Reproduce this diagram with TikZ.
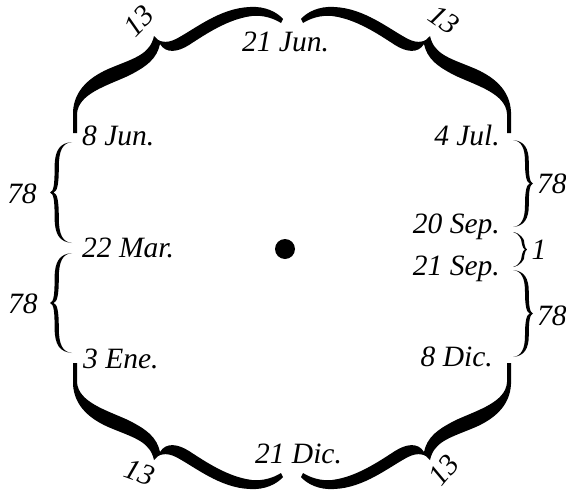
\documentclass[tikz,border=0pt]{standalone}
\usepackage{fontspec}
\setmainfont{Liberation Serif}
\usepackage{tikz}
\newcommand\sbrace[4]{% x, top, bottom, depth (signed)
  \pgfmathsetmacro\ym{(#2+#3)/2}
  \pgfmathsetmacro\yq{(#2+\ym)/2}
  \pgfmathsetmacro\yr{(#3+\ym)/2}
  \fill ({#1},{#2}) .. controls ({#1+0.55*(#4)},{#2+1}) and ({#1+0.79*(#4)},{#2+8}) .. ({#1+0.79*(#4)},\yq)
    .. controls ({#1+0.79*(#4)},{\ym-8}) and ({#1+0.83*(#4)},{\ym-1}) .. ({#1+(#4)},\ym)
    .. controls ({#1+0.83*(#4)},{\ym+1}) and ({#1+0.79*(#4)},{\ym+8}) .. ({#1+0.79*(#4)},\yr)
    .. controls ({#1+0.79*(#4)},{#3-8}) and ({#1+0.55*(#4)},{#3-1}) .. ({#1},{#3})
    .. controls ({#1+0.42*(#4)},{#3-1}) and ({#1+0.6*(#4)},{#3-8}) .. ({#1+0.6*(#4)},\yr)
    .. controls ({#1+0.6*(#4)},{\ym+8}) and ({#1+0.67*(#4)},{\ym+1}) .. ({#1+0.84*(#4)},\ym)
    .. controls ({#1+0.67*(#4)},{\ym-1}) and ({#1+0.6*(#4)},{\ym-8}) .. ({#1+0.6*(#4)},\yq)
    .. controls ({#1+0.6*(#4)},{#2+8}) and ({#1+0.42*(#4)},{#2+1}) .. ({#1},{#2}) -- cycle;}
\tikzset{
  date/.style={font=\fontsize{29.5}{34}\selectfont\itshape, inner sep=0pt},
  num/.style={font=\fontsize{29.5}{34}\selectfont\itshape, inner sep=0pt},
  cbrace/.pic={
    \fill (73,133) -- (73,112) .. controls (74,90) and (90,76) .. (113,67)
      .. controls (135,58) and (150,54) .. (154,36)
      .. controls (158,42) and (166,44) .. (176,39)
      .. controls (195,29) and (220,8) .. (250,7)
      .. controls (265,6) and (277,12) .. (283,19)
      -- (281,23)
      .. controls (273,18) and (263,15) .. (252,16)
      .. controls (228,19) and (206,34) .. (189,45)
      .. controls (178,52) and (166,54) .. (160,44)
      .. controls (157,58) and (148,66) .. (128,76)
      .. controls (106,86) and (78,94) .. (77,114) -- (77,133) -- cycle;
  }
}

\begin{document}
\begin{tikzpicture}[x=1pt, y=-1pt]
  \useasboundingbox (0,0) rectangle (566,493);
  % centre
  \node[circle, fill, minimum size=20pt, inner sep=0pt] (sun) at (285,249) {};
  % dates
  \node[date, anchor=base] (jun21) at (285.5,51) {21 Jun.};
  \node[date, anchor=base] (dic21) at (298.5,463) {21 Dic.};
  \node[date, anchor=base west] (jun8) at (82,145) {8 Jun.};
  \node[date, anchor=base west] (mar22) at (82,257) {22 Mar.};
  \node[date, anchor=base west] (ene3) at (83,368) {3 Ene.};
  \node[date, anchor=base east] (jul4) at (500,145) {4 Jul.};
  \node[date, anchor=base east] (sep20) at (500,233) {20 Sep.};
  \node[date, anchor=base east] (sep21) at (500,275) {21 Sep.};
  \node[date, anchor=base east] (dic8) at (493,366) {8 Dic.};
  % corner braces
  \pic {cbrace};
  \pic[xscale=-1] at (584,0) {cbrace};
  \pic[yscale=-1] at (0,496) {cbrace};
  \pic[xscale=-1, yscale=-1] at (584,496) {cbrace};
  \node[num, rotate=45] (c1) at (139,21) {13};
  \node[num, rotate=-35] (c2) at (444,20) {13};
  \node[num, rotate=-20] (c3) at (140,472) {13};
  \node[num, rotate=50] (c4) at (444,470) {13};
  % side braces
  \sbrace{72}{142}{243}{-22}
  \sbrace{72}{253}{353}{-22}
  \sbrace{513}{140}{227}{20}
  \sbrace{513}{232}{267}{14}
  \sbrace{513}{270}{357}{20}
  \node[num, anchor=base] (d1) at (22,203) {78};
  \node[num, anchor=base] (d2) at (23,313) {78};
  \node[num, anchor=base west] (d3) at (537,193) {78};
  \node[num, anchor=base west] (d4) at (537,325) {78};
  \node[num, anchor=base] (d5) at (539,259) {1};
\end{tikzpicture}
\end{document}
